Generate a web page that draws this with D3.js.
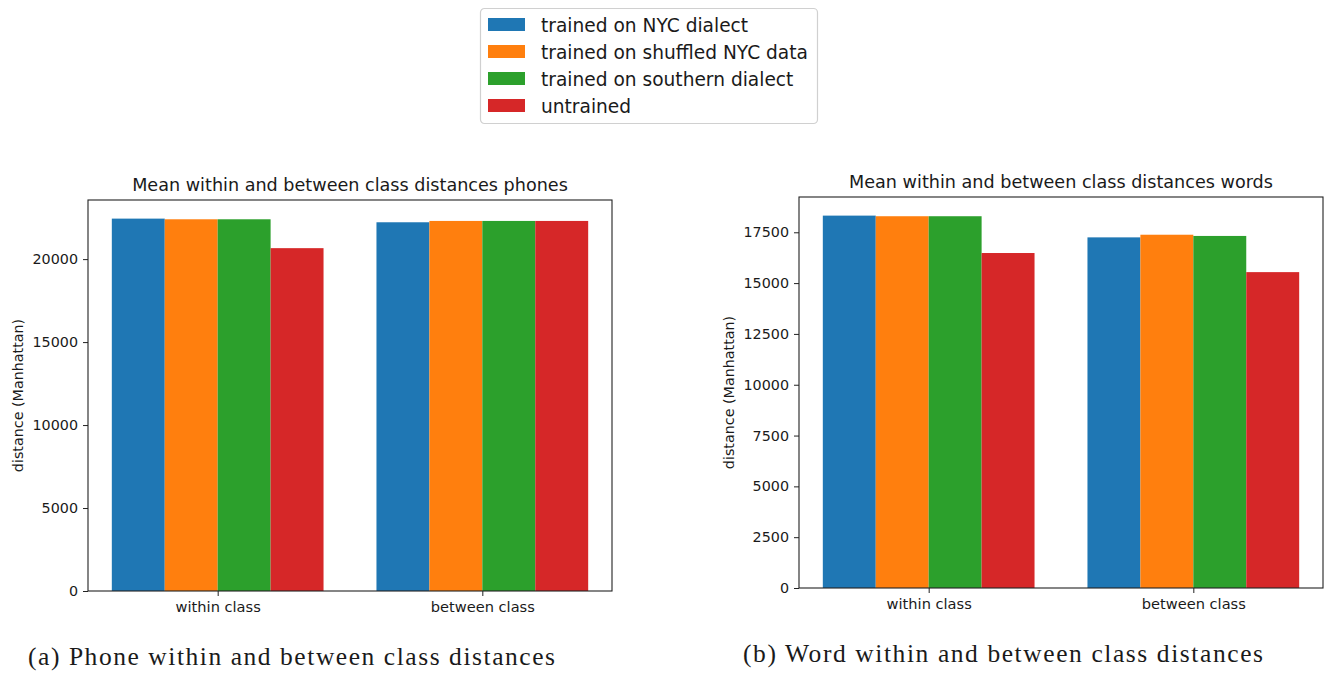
<!DOCTYPE html>
<html>
<head>
<meta charset="utf-8">
<script src="https://cdn.jsdelivr.net/npm/d3@7"></script>
<style>
  body { margin: 0; background: #fff; }
  svg text { font-family: "DejaVu Sans", sans-serif; fill: #1a1a1a; }
  .caption { font-family: "Liberation Serif", serif; }
</style>
</head>
<body>
<svg id="fig"></svg>
<script>
// groups on the x axis
const groups = ["within class", "between class"];
const seriesNames = ["trained on NYC dialect", "trained on shuffled NYC data", "trained on southern dialect", "untrained"];
const colors = ["#1f77b4", "#ff7f0e", "#2ca02c", "#d62728"];

// phones panel values
const phoneNyc = [22440, 22220];
const phoneShuffled = [22400, 22300];
const phoneSouthern = [22400, 22300];
const phoneUntrained = [20660, 22300];
const phoneTicks = [0, 5000, 10000, 15000, 20000];

// words panel values
const wordNyc = [18320, 17250];
const wordShuffled = [18290, 17380];
const wordSouthern = [18290, 17320];
const wordUntrained = [16480, 15540];
const wordTicks = [0, 2500, 5000, 7500, 10000, 12500, 15000, 17500];

let w = 1332;
let h = 673;

let svg = d3.select('#fig')
  .attr('width', w)
  .attr('height', h);

function drawPanel(p) {
  let series = p.values;
  let maxV = d3.max(series, s => d3.max(s));

  // matplotlib style x: groups at 0,1 with bar width 0.2
  let xScale = d3.scaleLinear()
    .domain([-0.49, 1.49])
    .range([p.left, p.right]);

  let yScale = d3.scaleLinear()
    .domain([0, maxV * 1.05])
    .range([p.bottom, p.top]);

  let g = svg.append('g');

  let barW = 0.2;
  series.forEach((vals, si) => {
    g.selectAll('rect.s' + si)
      .data(vals)
      .enter()
      .append('rect')
      .attr('x', (d, i) => xScale(i + (si - 1.5) * barW - barW / 2))
      .attr('y', d => yScale(d))
      .attr('width', xScale(barW) - xScale(0))
      .attr('height', d => yScale(0) - yScale(d))
      .attr('fill', colors[si]);
  });

  // frame
  g.append('rect')
    .attr('x', p.left)
    .attr('y', p.top)
    .attr('width', p.right - p.left)
    .attr('height', p.bottom - p.top)
    .attr('fill', 'none')
    .attr('stroke', '#222')
    .attr('stroke-width', 1.1);

  let yAxis = d3.axisLeft(yScale)
    .tickValues(p.ticks)
    .tickFormat(d3.format('d'))
    .tickSize(5)
    .tickPadding(5);

  let ya = g.append('g')
    .attr('transform', `translate(${p.left}, 0)`)
    .call(yAxis);
  ya.select('.domain').remove();
  ya.selectAll('line').attr('stroke', '#222');
  ya.selectAll('text').style('font-size', '14.3px').attr('fill', '#1a1a1a');

  let xAxis = d3.axisBottom(xScale)
    .tickValues([0, 1])
    .tickFormat((d, i) => groups[i])
    .tickSize(5)
    .tickPadding(6);

  let xa = g.append('g')
    .attr('transform', `translate(0, ${p.bottom})`)
    .call(xAxis);
  xa.select('.domain').remove();
  xa.selectAll('line').attr('stroke', '#222');
  xa.selectAll('text').style('font-size', '14.6px').attr('fill', '#1a1a1a');

  // title
  g.append('text')
    .attr('x', (p.left + p.right) / 2)
    .attr('y', p.top - 9)
    .style('text-anchor', 'middle')
    .style('font-size', '17.6px')
    .text(p.title);

  // y label
  g.append('text')
    .attr('transform', 'rotate(-90)')
    .attr('x', -(p.top + p.bottom) / 2)
    .attr('y', p.left - 65)
    .style('text-anchor', 'middle')
    .style('font-size', '14.3px')
    .text('distance (Manhattan)');

  // caption
  g.append('text')
    .attr('class', 'caption')
    .attr('x', p.capX)
    .attr('y', p.capY)
    .attr('textLength', p.capW)
    .attr('lengthAdjust', 'spacing')
    .style('font-size', '25.5px')
    .text(p.caption);
}

drawPanel({
  values: [phoneNyc, phoneShuffled, phoneSouthern, phoneUntrained],
  ticks: phoneTicks,
  left: 88, right: 612, top: 200, bottom: 591,
  title: 'Mean within and between class distances phones',
  caption: '(a) Phone within and between class distances',
  capX: 28, capY: 665, capW: 527
});

drawPanel({
  values: [wordNyc, wordShuffled, wordSouthern, wordUntrained],
  ticks: wordTicks,
  left: 799, right: 1323, top: 197, bottom: 588,
  title: 'Mean within and between class distances words',
  caption: '(b) Word within and between class distances',
  capX: 743, capY: 662, capW: 520
});

// LEGEND
let legend = svg.append('g').attr('transform', 'translate(480, 8)');

legend.append('rect')
  .attr('x', 0.5)
  .attr('y', 0.5)
  .attr('width', 337)
  .attr('height', 115)
  .attr('rx', 4)
  .attr('fill', '#fff')
  .attr('stroke', '#d0d0d0')
  .attr('stroke-width', 1.2);

let items = legend.selectAll('g.item')
  .data(seriesNames)
  .enter()
  .append('g')
  .attr('transform', (d, i) => `translate(0, ${16 + i * 27})`);

items.append('rect')
  .attr('x', 8)
  .attr('y', -6)
  .attr('width', 37)
  .attr('height', 13)
  .attr('fill', (d, i) => colors[i]);

items.append('text')
  .attr('x', 61)
  .attr('y', 1)
  .attr('dy', '0.35em')
  .style('font-size', '18.6px')
  .text(d => d);
</script>
</body>
</html>
